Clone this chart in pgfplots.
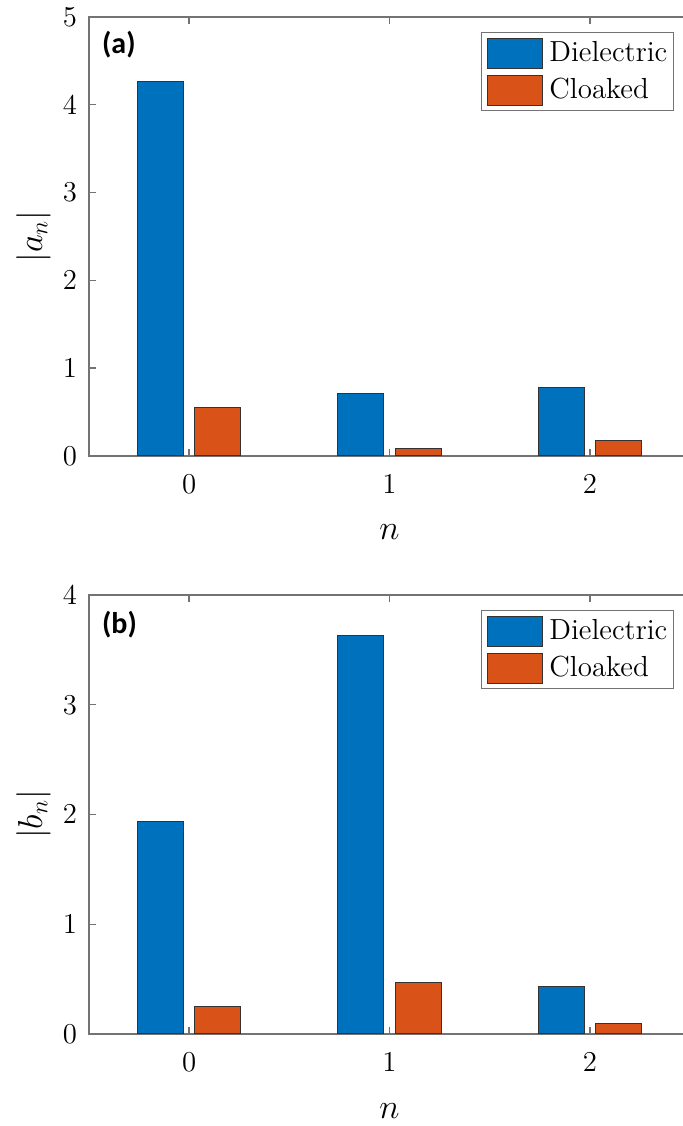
\documentclass[border=0pt]{standalone}
\usepackage{pgfplots}
\pgfplotsset{compat=1.18}
\usepackage{fontspec}
\newfontfamily\calibri{Carlito}
\definecolor{mblue}{RGB}{0,114,189}
\definecolor{morange}{RGB}{217,83,25}
\definecolor{axgray}{gray}{0.45}
\pgfplotsset{
  myax/.style={
    scale only axis, width=300.5pt, height=219.5pt,
    xmin=-0.5, xmax=2.5, xtick={0,1,2}, ymin=0,
    axis line style={axgray, line width=0.7pt},
    tick style={axgray, line width=0.7pt},
    major tick length=3.5pt, tick align=inside,
    ticklabel style={font=\fontsize{15.5}{18}\selectfont},
    xticklabel style={yshift=-6pt},
    yticklabel style={xshift=-2.5pt},
    label style={font=\fontsize{18.5}{22}\selectfont},
    xlabel style={at={(axis description cs:0.5,0)}, anchor=base, yshift=-42pt},
    ylabel style={at={(axis description cs:-0.0923,0.5)}, anchor=center},
    legend style={at={(0.9734,0.9658)}, anchor=north east, draw=axgray, line width=0.7pt,
      font=\fontsize{14.5}{17}\selectfont, inner xsep=3pt, inner ysep=2.5pt,
      column sep=3pt, row sep=3pt, cells={anchor=base west}, nodes={inner sep=0pt}},
  },
  mybar/.style={ybar, bar width=0.2286, draw=black!80, line width=0.5pt,
    legend image code/.code={\draw[##1] (0pt,-3.5pt) rectangle (27.5pt,11.5pt);}},
}
\begin{document}
\begin{tikzpicture}
\begin{axis}[myax, at={(44.5pt,335pt)}, anchor=south west, ymax=5, ytick={0,1,2,3,4,5},
  xlabel={$n$}, ylabel={$|a_n|$}]
\addplot[mybar, bar shift=-0.1429, fill=mblue] coordinates {(0,4.26) (1,0.71) (2,0.785)};
\addlegendentry{Dielectric}
\addplot[mybar, bar shift=0.1429, fill=morange] coordinates {(0,0.554) (1,0.088) (2,0.18)};
\addlegendentry{Cloaked}
\node[anchor=west, inner sep=0pt] at ([xshift=6.35pt,yshift=-14pt]rel axis cs:0,1) {\calibri\bfseries\fontsize{15}{18}\selectfont (a)};
\end{axis}
\begin{axis}[myax, at={(44.5pt,46pt)}, anchor=south west, ymax=4, ytick={0,1,2,3,4},
  xlabel={$n$}, ylabel={$|b_n|$}]
\addplot[mybar, bar shift=-0.1429, fill=mblue] coordinates {(0,1.936) (1,3.627) (2,0.434)};
\addlegendentry{Dielectric}
\addplot[mybar, bar shift=0.1429, fill=morange] coordinates {(0,0.252) (1,0.473) (2,0.094)};
\addlegendentry{Cloaked}
\node[anchor=west, inner sep=0pt] at ([xshift=6.35pt,yshift=-15pt]rel axis cs:0,1) {\calibri\bfseries\fontsize{15}{18}\selectfont (b)};
\end{axis}
\pgfresetboundingbox
\path[use as bounding box] (0,0) rectangle (341.5pt,563pt);
\end{tikzpicture}
\end{document}
